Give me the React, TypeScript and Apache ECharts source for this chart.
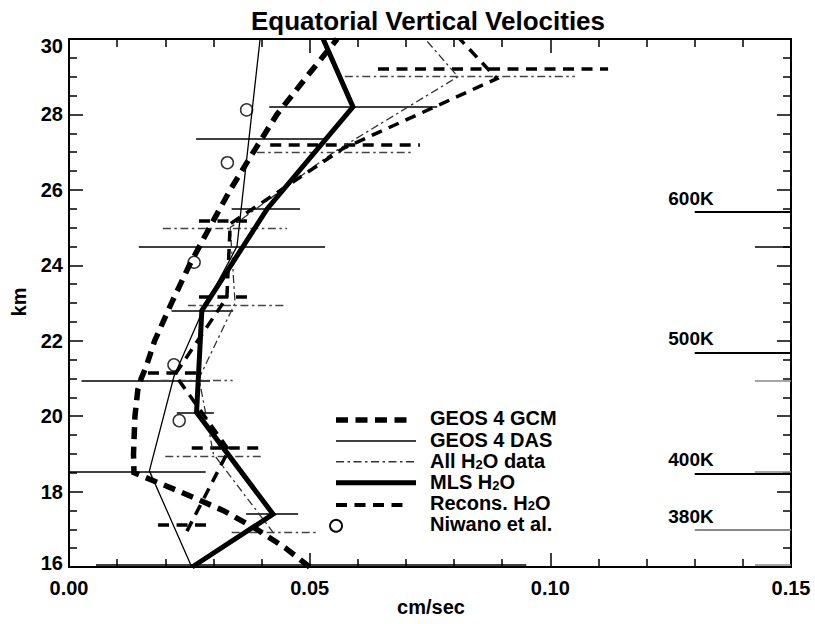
import React, { useEffect, useRef } from 'react';
import * as echarts from 'echarts';

// ---------- data (km altitude, cm/sec velocity) ----------
const gcmKm = [16.0, 16.5, 17.0, 17.5, 18.0, 18.5, 19.0, 20.0, 20.7, 21.0, 21.3, 22.0, 23.0, 24.0, 25.0, 26.0, 27.0, 28.0, 29.0, 30.0];
const gcmVel = [0.050, 0.045, 0.039, 0.032, 0.023, 0.0135, 0.0134, 0.0137, 0.0143, 0.0150, 0.0160, 0.0178, 0.0213, 0.0250, 0.0292, 0.0335, 0.0383, 0.0432, 0.0494, 0.0557];

const dasKm = [16.0, 18.55, 21.05, 22.8, 24.5, 30.0];
const dasVel = [0.0255, 0.0167, 0.0218, 0.0278, 0.0349, 0.0397];

const allKm = [16.9, 19.0, 21.0, 23.0, 25.0, 27.0, 29.0, 30.0];
const allVel = [0.0425, 0.030, 0.027, 0.0345, 0.0335, 0.055, 0.0808, 0.074];

const mlsKm = [16.0, 17.4, 20.1, 22.8, 25.5, 28.2, 30.0];
const mlsVel = [0.0256, 0.0424, 0.0265, 0.0276, 0.0412, 0.059, 0.0528];

const reconsKm = [16.95, 19.1, 21.1, 23.15, 25.1, 27.1, 28.95, 30.0];
const reconsVel = [0.0245, 0.0332, 0.022, 0.0328, 0.0335, 0.057, 0.0889, 0.0812];

const niwanoKm = [17.1, 19.88, 21.36, 24.08, 26.72, 28.12];
const niwanoVel = [0.0555, 0.0229, 0.0218, 0.026, 0.0329, 0.0369];

// error bars: level, low, high
const mlsBarKm = [17.4, 20.1, 22.8, 25.5, 28.2];
const mlsBarLo = [0.0368, 0.0224, 0.0213, 0.0338, 0.0416];
const mlsBarHi = [0.0476, 0.0301, 0.0341, 0.048, 0.0765];

const solidBarKm = [16.05, 18.53, 20.94, 24.49, 27.35];
const solidBarLo = [0.0056, 0.0, 0.0026, 0.0145, 0.0264];
const solidBarHi = [0.095, 0.0284, 0.0293, 0.0532, 0.0532];

const allBarKm = [16.91, 18.93, 20.96, 22.95, 24.98, 26.99, 29.0];
const allBarLo = [0.0338, 0.020, 0.019, 0.0247, 0.0195, 0.039, 0.0573];
const allBarHi = [0.0515, 0.040, 0.034, 0.0453, 0.0453, 0.0714, 0.1051];

const reconsBarKm = [17.11, 19.15, 21.15, 23.17, 25.18, 27.2, 29.2];
const reconsBarLo = [0.0185, 0.0255, 0.0164, 0.027, 0.027, 0.0418, 0.0642];
const reconsBarHi = [0.0289, 0.040, 0.0266, 0.0374, 0.0372, 0.0729, 0.112];

// isentropes on the right
const isentropeNames = ['600K', '500K', '400K', '380K'];
const isentropeKm = [25.41, 21.68, 18.48, 16.98];
const isentropeFrom = 0.13;
const isentropeTo = 0.15;
const isentropeLabelAt = 0.1245;
const shortMarkKm = [24.5, 20.94, 18.52, 16.05];
const shortMarkFrom = 0.1425;

// axes
const xMin = 0, xMax = 0.15, xStep = 0.05;
const yMin = 16, yMax = 30, yStep = 2;

const titleText = 'Equatorial Vertical Velocities';
const xName = 'cm/sec';
const yName = 'km';
const legendTexts = [
  '{t|GEOS 4 GCM}',
  '{t|GEOS 4 DAS}',
  '{t|All H}{s|2}{t|O data}',
  '{t|MLS H}{s|2}{t|O}',
  '{t|Recons. H}{s|2}{t|O}',
  '{t|Niwano et al.}',
];

// ---------- helpers ----------
const FONT = '"Liberation Sans", Arial, Helvetica, sans-serif';
const pairs = (xs: number[], ys: number[]) => xs.map((x, i) => [x, ys[i]]);
const hbars = (km: number[], lo: number[], hi: number[]) =>
  km.map((k, i) => ({ coords: [[lo[i], k], [hi[i], k]] }));

const DASH_GCM = [12, 7.5];
const DASH_RECONS = [11, 7.5];
const DASH_DOT = [8, 3.5, 2.5, 3.5];

const lineSeries = (name: string, data: number[][], width: number, type: any, color = '#000') => ({
  type: 'line',
  name,
  data,
  symbol: 'none',
  showSymbol: false,
  lineStyle: { color, width, type, cap: 'butt', join: 'miter' },
  silent: true,
  z: 3,
});

const barSeries = (name: string, data: any[], width: number, type: any, color = '#000') => ({
  type: 'lines',
  name,
  coordinateSystem: 'cartesian2d',
  data,
  lineStyle: { color, width, type, opacity: 1, curveness: 0 },
  silent: true,
  z: 2,
});

const axisCommon = {
  type: 'value',
  axisLine: { show: true, onZero: false, lineStyle: { color: '#000', width: 2 } },
  axisTick: { show: true, inside: true, length: 14, lineStyle: { color: '#000', width: 1.5 } },
  minorTick: { show: true, inside: true, length: 8, lineStyle: { color: '#000', width: 1.5 } },
  splitLine: { show: false },
  minorSplitLine: { show: false },
};

const labelFont = { color: '#000', fontSize: 20, fontWeight: 'bold', fontFamily: FONT };

function buildOption() {
  const legendRowsY = [420, 441, 461.7, 482.7, 505, 526];
  const legendTextY = [418, 439.5, 461, 482, 502.5, 523.5];
  const legendLine = (i: number, width: number, dash: any, x2: number, color = '#000') => ({
    type: 'line',
    shape: { x1: 336, y1: legendRowsY[i], x2, y2: legendRowsY[i] },
    style: { stroke: color, lineWidth: width, lineDash: dash, lineCap: 'butt' },
    silent: true,
    z: 10,
  });
  const centered = {
    fill: '#000',
    align: 'center',
    verticalAlign: 'middle',
    textAlign: 'center',
    textVerticalAlign: 'middle',
  };
  const graphic: any[] = [
    { type: 'text', x: 428, y: 21, style: { ...centered, text: titleText, font: `bold 26px ${FONT}` } },
    { type: 'text', x: 431, y: 607, style: { ...centered, text: xName, font: `bold 20px ${FONT}` } },
    { type: 'text', x: 19, y: 302, rotation: Math.PI / 2, style: { ...centered, text: yName, font: `bold 20px ${FONT}` } },
    legendLine(0, 5.5, DASH_GCM, 409),
    legendLine(1, 1.5, null, 416),
    legendLine(2, 1.5, DASH_DOT, 414, '#333'),
    legendLine(3, 5, null, 416),
    legendLine(4, 4, DASH_RECONS, 408),
    {
      type: 'circle',
      shape: { cx: 336, cy: legendRowsY[5], r: 6 },
      style: { fill: 'none', stroke: '#000', lineWidth: 1.5 },
      z: 10,
    },
  ];
  legendTexts.forEach((t, i) => {
    graphic.push({
      type: 'text',
      x: 430,
      y: legendTextY[i],
      z: 10,
      style: {
        text: t,
        fill: '#000',
        align: 'left',
        verticalAlign: 'middle',
        textAlign: 'left',
        textVerticalAlign: 'middle',
        rich: {
          t: { fontSize: 20, fontWeight: 'bold', fontFamily: FONT, lineHeight: 19, verticalAlign: 'middle', fill: '#000', color: '#000' },
          s: { fontSize: 13, fontWeight: 'bold', fontFamily: FONT, lineHeight: 1, verticalAlign: 'bottom', fill: '#000', color: '#000' },
        },
      },
    });
  });

  const isentropeLines = isentropeKm.map((k) => ({ coords: [[isentropeFrom, k], [isentropeTo, k]] }));
  const shortMarks = shortMarkKm.map((k) => ({ coords: [[shortMarkFrom, k], [isentropeTo, k]] }));

  return {
    animation: false,
    backgroundColor: '#fff',
    grid: { left: 69, right: 24, top: 39, bottom: 57, containLabel: false },
    xAxis: [
      {
        ...axisCommon,
        position: 'bottom',
        min: xMin,
        max: xMax,
        interval: xStep,
        minorTick: { ...axisCommon.minorTick, splitNumber: 5 },
        axisLabel: { ...labelFont, margin: 11, formatter: (v: number) => v.toFixed(2) },
      },
      {
        ...axisCommon,
        position: 'top',
        min: xMin,
        max: xMax,
        interval: xStep,
        minorTick: { ...axisCommon.minorTick, splitNumber: 5 },
        axisLabel: { show: false },
      },
    ],
    yAxis: [
      {
        ...axisCommon,
        position: 'left',
        min: yMin,
        max: yMax,
        interval: yStep,
        minorTick: { ...axisCommon.minorTick, splitNumber: 4 },
        axisLabel: {
          ...labelFont,
          margin: 6,
          formatter: (v: number) => (v === yMax ? `{hi|${v}}` : v === yMin ? `{lo|${v}}` : `${v}`),
          rich: {
            hi: { ...labelFont, padding: [13, 0, 0, 0] },
            lo: { ...labelFont, padding: [0, 0, 9, 0] },
          },
        },
      },
      {
        ...axisCommon,
        position: 'right',
        min: yMin,
        max: yMax,
        interval: yStep,
        minorTick: { ...axisCommon.minorTick, splitNumber: 4 },
        axisLabel: { show: false },
      },
    ],
    graphic,
    series: [
      barSeries('solid bars', hbars(solidBarKm, solidBarLo, solidBarHi), 1.5, 'solid'),
      barSeries('MLS bars', hbars(mlsBarKm, mlsBarLo, mlsBarHi), 1.5, 'solid'),
      barSeries('All bars', hbars(allBarKm, allBarLo, allBarHi), 1.3, DASH_DOT, '#444'),
      barSeries('Recons bars', hbars(reconsBarKm, reconsBarLo, reconsBarHi), 3.5, DASH_RECONS),
      {
        ...barSeries('isentropes', isentropeLines, 2, 'solid'),
        data: isentropeLines.map((d, i) => ({
          ...d,
          lineStyle: { color: i === 3 ? '#888' : '#000', width: 2, opacity: 1 },
        })),
      },
      {
        ...barSeries('short marks', shortMarks, 1.5, 'solid'),
        data: shortMarks.map((d, i) => ({
          ...d,
          lineStyle: { color: i === 0 ? '#000' : '#888', width: 1.5, opacity: 1 },
        })),
      },
      {
        type: 'scatter',
        name: 'isentrope labels',
        data: isentropeKm.map((k) => [isentropeLabelAt, k]),
        symbolSize: 0,
        itemStyle: { color: '#000', opacity: 1 },
        silent: true,
        z: 6,
        label: {
          show: true,
          position: 'right',
          distance: 0,
          offset: [0, -14],
          color: '#000',
          opacity: 1,
          textBorderWidth: 0,
          fontSize: 19,
          fontWeight: 'bold',
          fontFamily: FONT,
          formatter: (p: any) => isentropeNames[p.dataIndex],
        },
      },
      lineSeries('GEOS 4 DAS', pairs(dasVel, dasKm), 1.3, 'solid'),
      lineSeries('All H2O data', pairs(allVel, allKm), 1.3, DASH_DOT, '#333'),
      lineSeries('Recons. H2O', pairs(reconsVel, reconsKm), 3.5, DASH_RECONS),
      lineSeries('GEOS 4 GCM', pairs(gcmVel, gcmKm), 5.5, DASH_GCM),
      lineSeries('MLS H2O', pairs(mlsVel, mlsKm), 5, 'solid'),
      {
        type: 'scatter',
        name: 'Niwano et al.',
        data: pairs(niwanoVel, niwanoKm),
        symbol: 'circle',
        symbolSize: 12,
        itemStyle: { color: 'rgba(0,0,0,0)', borderColor: '#000', borderWidth: 1.5 },
        silent: true,
        z: 5,
      },
    ],
  };
}

export default function App() {
  const ref = useRef<HTMLDivElement | null>(null);
  useEffect(() => {
    if (!ref.current) return;
    const chart = echarts.init(ref.current, null, { renderer: 'svg' });
    chart.setOption(buildOption() as any);
    return () => chart.dispose();
  }, []);
  return (
    <div
      ref={ref}
      style={{ position: 'fixed', left: 0, top: 0, width: 815, height: 624, background: '#fff' }}
    />
  );
}
